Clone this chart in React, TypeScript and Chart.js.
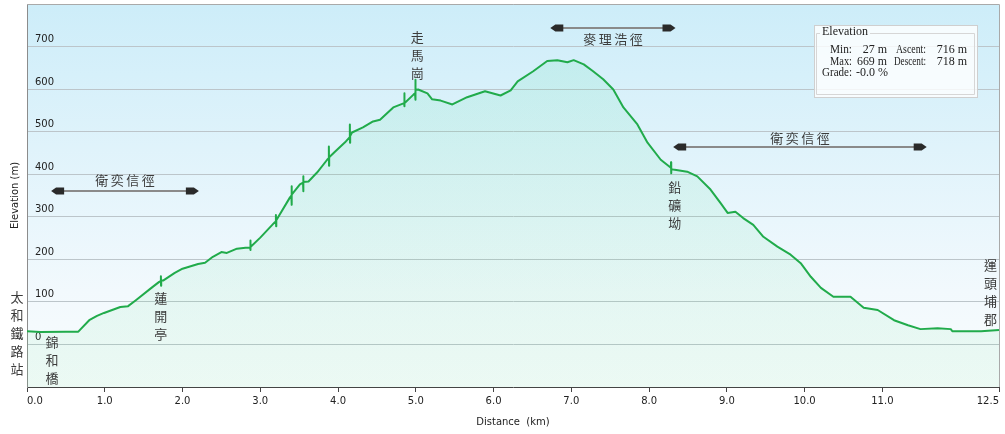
import { useEffect, useRef } from 'react';
import { Chart, registerables } from 'chart.js';

Chart.register(...registerables);

// ---- data ----
const distanceKm = [
  0.0, 0.17, 0.5, 0.66, 0.8, 0.9, 0.99, 1.2, 1.3, 1.4, 1.6, 1.7,
  1.72, 1.722, 1.724, 1.726, 1.75, 1.9, 2.0,
  2.2, 2.29, 2.39, 2.5, 2.57, 2.7, 2.81,
  2.87, 2.872, 2.874, 2.876, 3.0, 3.19,
  3.2, 3.202, 3.204, 3.206, 3.38,
  3.4, 3.402, 3.404, 3.406, 3.51,
  3.55, 3.552, 3.554, 3.556, 3.62, 3.73, 3.86,
  3.88, 3.882, 3.884, 3.886, 3.96, 4.09,
  4.15, 4.152, 4.154, 4.156, 4.18, 4.32,
  4.45, 4.54, 4.71,
  4.85, 4.852, 4.854, 4.856, 4.97,
  4.99, 4.992, 4.994, 4.996, 4.998, 5.0, 5.03, 5.15, 5.21, 5.32, 5.47,
  5.66, 5.89, 6.09, 6.22, 6.31, 6.51, 6.69, 6.82, 6.95, 7.03, 7.16, 7.28, 7.41, 7.54, 7.67,
  7.85, 7.98, 8.15,
  8.28, 8.282, 8.284, 8.286, 8.31, 8.49, 8.62, 8.79, 8.92, 9.01, 9.11, 9.21, 9.34, 9.47,
  9.65, 9.82, 9.95, 10.08, 10.21, 10.37, 10.59, 10.76, 10.94, 11.15, 11.33, 11.49, 11.71,
  11.88, 11.9, 12.27, 12.5,
];
const elevationM = [
  31, 29, 30, 30, 57, 67, 74, 88, 90, 104, 133, 147,
  149, 160, 138, 150, 150, 168, 178,
  189, 192, 206, 217, 215, 225, 227,
  227, 244, 222, 229, 251, 288,
  290, 304, 278, 292, 345,
  350, 372, 328, 352, 376,
  380, 395, 360, 382, 383, 404, 434,
  438, 465, 420, 440, 453, 475,
  487, 517, 474, 490, 498, 510,
  524, 528, 557,
  567, 590, 560, 567, 587,
  590, 622, 575, 618, 578, 598, 599, 590, 576, 573, 564,
  581, 595, 585, 597, 618, 642, 666, 668, 663, 668, 658, 642, 623, 599, 557,
  517, 474, 434,
  415, 428, 402, 412, 411, 406, 395, 364, 332, 309, 312, 297, 281, 253,
  230, 211, 191, 159, 133, 112, 112, 86, 81, 57, 45, 36, 38,
  36, 31, 31, 34,
];

const xTickValues = [0, 1, 2, 3, 4, 5, 6, 7, 8, 9, 10, 11, 12.5];
const yMin = -100;
const yMax = 800;
const yStep = 100;

const placeNames = ['太和鐵路站', '錦和橋', '蓮開亭', '走馬崗', '鉛礦坳', '運頭埔郡'];
const placeKm = [-0.13, 0.32, 1.72, 5.02, 8.33, 12.39];
const placeElev = [111, 5, 109, 722, 371, 187];

const trailNames = ['衛奕信徑', '麥理浩徑', '衛奕信徑'];
const trailFromKm = [0.31, 6.73, 8.31];
const trailToKm = [2.21, 8.34, 11.57];
const trailLineElev = [361, 743, 463];
const trailTextElev = [387, 717, 486];

const statTitle = 'Elevation';
const statLabels = ['Min:', 'Max:', 'Grade:'];
const statValues = ['27 m', '669 m', '-0.0 %'];
const statLabels2 = ['Ascent:', 'Descent:'];
const statValues2 = ['716 m', '718 m'];

const overlayPlugin = {
  id: 'overlay',
  beforeDraw(chart: any) {
    const { ctx, chartArea: a } = chart;
    const g = ctx.createLinearGradient(0, a.top, 0, a.bottom);
    g.addColorStop(0, '#cdedf9');
    g.addColorStop(0.75, '#f2f9fd');
    g.addColorStop(1, '#f8fcfd');
    ctx.save();
    ctx.fillStyle = g;
    ctx.fillRect(a.left, a.top, a.right - a.left, a.bottom - a.top);
    ctx.restore();
  },
  afterDraw(chart: any) {
    const { ctx, chartArea: a } = chart;
    const xs = chart.scales.x;
    const ys = chart.scales.y;
    ctx.save();
    // top / right frame
    ctx.strokeStyle = '#a9a9a9';
    ctx.lineWidth = 1;
    ctx.beginPath();
    ctx.moveTo(a.left, a.top + 0.5);
    ctx.lineTo(a.right + 0.5, a.top + 0.5);
    ctx.lineTo(a.right + 0.5, a.bottom);
    ctx.stroke();

    // place labels (vertical)
    ctx.font = '13px "Noto Sans CJK TC"';
    ctx.fillStyle = '#3c3c3c';
    ctx.textAlign = 'center';
    ctx.textBaseline = 'middle';
    placeNames.forEach((name, i) => {
      const px = xs.getPixelForValue(placeKm[i]);
      const py = ys.getPixelForValue(placeElev[i]);
      Array.from(name).forEach((ch, k) => ctx.fillText(ch, px, py + k * 18));
    });

    // trail arrows
    trailNames.forEach((name, i) => {
      const x1 = xs.getPixelForValue(trailFromKm[i]);
      const x2 = xs.getPixelForValue(trailToKm[i]);
      const y = Math.round(ys.getPixelForValue(trailLineElev[i]));
      ctx.strokeStyle = '#8a8a8a';
      ctx.lineWidth = 2;
      ctx.beginPath();
      ctx.moveTo(x1 + 6, y);
      ctx.lineTo(x2 - 6, y);
      ctx.stroke();
      ctx.fillStyle = '#2a2a2a';
      ctx.beginPath();
      ctx.moveTo(x1, y);
      ctx.lineTo(x1 + 5, y - 3.5);
      ctx.lineTo(x1 + 13, y - 3.5);
      ctx.lineTo(x1 + 13, y + 3.5);
      ctx.lineTo(x1 + 5, y + 3.5);
      ctx.closePath();
      ctx.fill();
      ctx.beginPath();
      ctx.moveTo(x2, y);
      ctx.lineTo(x2 - 5, y - 3.5);
      ctx.lineTo(x2 - 13, y - 3.5);
      ctx.lineTo(x2 - 13, y + 3.5);
      ctx.lineTo(x2 - 5, y + 3.5);
      ctx.closePath();
      ctx.fill();
      const cx = (x1 + x2) / 2;
      const ty = ys.getPixelForValue(trailTextElev[i]);
      const chars = Array.from(name);
      const step = 15.5;
      ctx.font = '13px "Noto Sans CJK TC"';
      ctx.fillStyle = '#3c3c3c';
      chars.forEach((ch, k) => {
        ctx.fillText(ch, cx + (k - (chars.length - 1) / 2) * step, ty);
      });
    });

    // stats box
    const bx = a.right - 185;
    const by = a.top + 21;
    const bw = 163;
    const bh = 72;
    ctx.fillStyle = 'rgba(255,255,255,0.8)';
    ctx.fillRect(bx, by, bw, bh);
    ctx.strokeStyle = '#cfcfcf';
    ctx.lineWidth = 1;
    ctx.strokeRect(bx + 0.5, by + 0.5, bw, bh);
    ctx.font = '12px "Liberation Serif"';
    ctx.textAlign = 'left';
    const tw = Math.min(ctx.measureText(statTitle).width, 46);
    ctx.strokeStyle = '#d6d6d6';
    ctx.beginPath();
    ctx.moveTo(bx + 6, by + 8.5);
    ctx.lineTo(bx + 2.5, by + 8.5);
    ctx.lineTo(bx + 2.5, bh + by - 2.5);
    ctx.lineTo(bx + bw - 2.5, bh + by - 2.5);
    ctx.lineTo(bx + bw - 2.5, by + 8.5);
    ctx.lineTo(bx + 10 + tw, by + 8.5);
    ctx.stroke();
    ctx.fillStyle = '#222';
    ctx.fillText(statTitle, bx + 8, by + 7, 46);
    const lineYs = [by + 25, by + 37, by + 48];
    ctx.textAlign = 'right';
    statLabels.forEach((l, i) => ctx.fillText(l, bx + 38, lineYs[i], i === 2 ? 30 : 22));
    ctx.fillText(statValues[0], bx + 73, lineYs[0], 26);
    ctx.fillText(statValues[1], bx + 73, lineYs[1], 30);
    ctx.textAlign = 'left';
    ctx.fillText(statValues[2], bx + 42, lineYs[2], 32);
    ctx.textAlign = 'right';
    statLabels2.forEach((l, i) => ctx.fillText(l, bx + 112, lineYs[i], i === 0 ? 30 : 32));
    statValues2.forEach((v, i) => ctx.fillText(v, bx + 153, lineYs[i], 38));
    ctx.restore();
  },
};

export default function App() {
  const ref = useRef<HTMLCanvasElement | null>(null);
  useEffect(() => {
    if (!ref.current) return;
    const points = distanceKm.map((d, i) => ({ x: d, y: elevationM[i] }));
    const chart = new Chart(ref.current, {
      type: 'line',
      data: {
        datasets: [
          {
            data: points,
            borderColor: '#21ab4b',
            borderWidth: 2,
            borderJoinStyle: 'round',
            pointRadius: 0,
            tension: 0,
            fill: 'start',
            backgroundColor: (c: any) => {
              const area = c.chart.chartArea;
              if (!area) return 'rgba(60,210,120,0.1)';
              const g = c.chart.ctx.createLinearGradient(0, area.top, 0, area.bottom);
              g.addColorStop(0, 'rgba(40,215,140,0.11)');
              g.addColorStop(1, 'rgba(90,220,130,0.08)');
              return g;
            },
          },
        ],
      },
      options: {
        animation: false,
        responsive: false,
        layout: { padding: { top: 4, right: 6, left: 0, bottom: 0 } },
        plugins: { legend: { display: false }, tooltip: { enabled: false } },
        scales: {
          x: {
            type: 'linear',
            min: 0,
            max: 12.5,
            afterBuildTicks: (s: any) => {
              s.ticks = xTickValues.map((v) => ({ value: v }));
            },
            afterFit: (s: any) => {
              s.height = 47;
              s.paddingLeft = 0;
              s.paddingRight = 0;
            },
            ticks: {
              align: 'inner',
              maxRotation: 0,
              autoSkip: false,
              padding: 3,
              color: '#222',
              font: { family: 'DejaVu Sans', size: 10 },
              callback: (v: any) => Number(v).toFixed(1),
            },
            grid: { drawOnChartArea: false, drawTicks: true, tickLength: 5, color: '#444' },
            border: { color: '#444', width: 1 },
            title: {
              display: true,
              text: 'Distance  (km)',
              color: '#222',
              font: { family: 'DejaVu Sans', size: 10 },
              padding: { top: 0, bottom: 6 },
            },
          },
          y: {
            type: 'linear',
            min: yMin,
            max: yMax,
            afterFit: (s: any) => {
              s.width = 27;
              s.paddingTop = 0;
              s.paddingBottom = 0;
            },
            ticks: {
              stepSize: yStep,
              mirror: true,
              padding: 8,
              labelOffset: -7,
              color: '#222',
              font: { family: 'DejaVu Sans', size: 10 },
              callback: (v: any) => (v <= yMin || v >= yMax ? '' : String(v)),
            },
            grid: {
              drawTicks: false,
              color: (c: any) =>
                c.tick && (c.tick.value <= yMin || c.tick.value >= yMax) ? 'rgba(0,0,0,0)' : '#bcc5ca',
              lineWidth: 1,
            },
            border: { color: '#8c8c8c', width: 1 },
            title: {
              display: true,
              text: 'Elevation (m)',
              color: '#222',
              font: { family: 'DejaVu Sans', size: 10 },
              padding: { top: 9, bottom: 0 },
            },
          },
        },
      },
      plugins: [overlayPlugin],
    } as any);
    return () => chart.destroy();
  }, []);
  return (
    <div style={{ position: 'fixed', left: 0, top: 0, width: 1005, height: 434, background: '#fff' }}>
      <canvas ref={ref} width={1005} height={434} style={{ width: 1005, height: 434 }} />
    </div>
  );
}
